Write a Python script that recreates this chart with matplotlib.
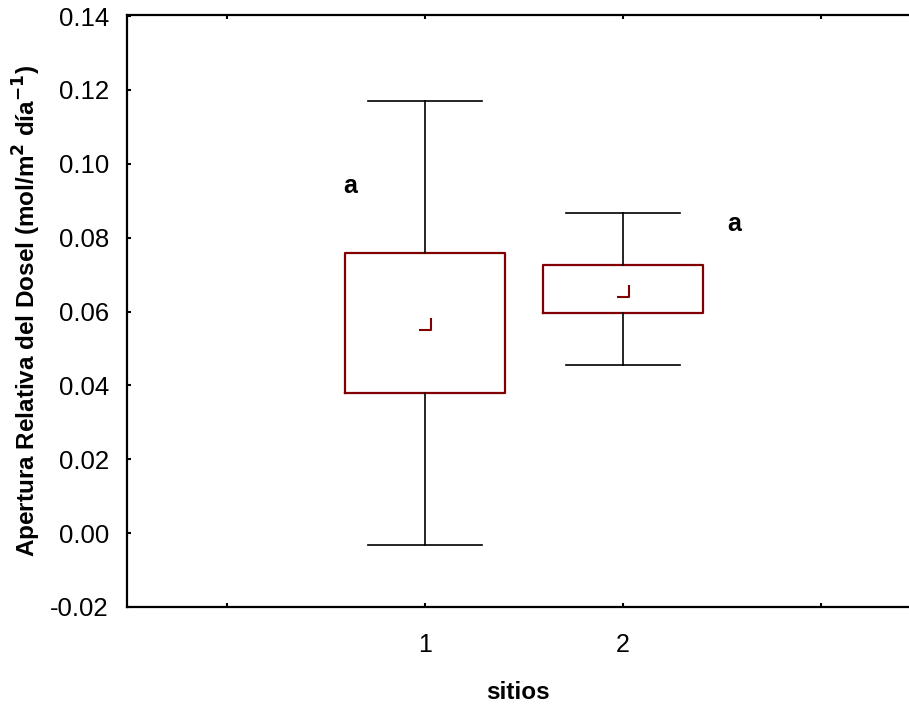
import matplotlib
matplotlib.use("Agg")
import matplotlib.pyplot as plt
from matplotlib.path import Path

plt.rcParams['font.family'] = ['Liberation Sans', 'DejaVu Sans']
plt.rcParams['axes.unicode_minus'] = False

# datos
sitios = [1, 2]
whis_low = [-0.0033, 0.0455]
q1 = [0.0379, 0.0596]
q3 = [0.0759, 0.0726]
whis_high = [0.1170, 0.0867]
media = [0.0565, 0.0657]
letras = ["a", "a"]
letra_x = [0.62, 2.56]
letra_y = [0.094, 0.0837]

x_ticks = [0, 1, 2, 3]
x_ticklabels = ["", "1", "2", ""]
y_ticks = [-0.02, 0.00, 0.02, 0.04, 0.06, 0.08, 0.10, 0.12, 0.14]

rojo = "#800000"

stats = []
for i in range(len(sitios)):
    stats.append(dict(whislo=whis_low[i], q1=q1[i], med=media[i], q3=q3[i],
                      whishi=whis_high[i], mean=media[i], fliers=[]))

fig = plt.figure(figsize=(9.09, 7.09), dpi=100)
ax = fig.add_axes([127 / 909, 1 - 607 / 709, 1 - 127 / 909, (607 - 15) / 709])

# marcador en forma de esquina
esquina = Path([(-1, -1), (1, -1), (1, 1)], [Path.MOVETO, Path.LINETO, Path.LINETO])

ax.bxp(stats, positions=sitios, widths=0.808, capwidths=0.576,
       showmeans=True, showfliers=False,
       boxprops=dict(color=rojo, linewidth=1.6),
       whiskerprops=dict(color="black", linewidth=1.2),
       capprops=dict(color="black", linewidth=1.2),
       medianprops=dict(linewidth=0),
       meanprops=dict(marker=esquina, markersize=9, markeredgecolor=rojo,
                      markerfacecolor="none", markeredgewidth=1.5))

for lx, ly, t in zip(letra_x, letra_y, letras):
    ax.text(lx, ly, t, fontsize=18, fontweight="bold", ha="center", va="center")

ax.set_xlim(-0.505, 3.444)
ax.set_ylim(-0.02, 0.1403)
ax.set_xticks(x_ticks)
ax.set_xticklabels(x_ticklabels)
ax.set_yticks(y_ticks)
ax.set_yticklabels(["%.2f" % v for v in y_ticks])

ax.tick_params(axis="x", direction="in", length=3, width=1.5, top=True,
               labelsize=18, pad=19)
ax.tick_params(axis="y", direction="in", length=3, width=1.5,
               labelsize=18.5, pad=13)
for s in ["left", "top", "bottom"]:
    ax.spines[s].set_linewidth(1.6)
ax.spines["right"].set_visible(False)

ax.set_xlabel("sitios", fontsize=17.5, fontweight="bold", labelpad=17)
ax.set_ylabel("Apertura Relativa del Dosel (mol/m$^\\mathbf{2}$ día$^\\mathbf{-1}$)",
              fontsize=17.5, fontweight="bold", labelpad=5)

fig.savefig("out.png", dpi=100)
